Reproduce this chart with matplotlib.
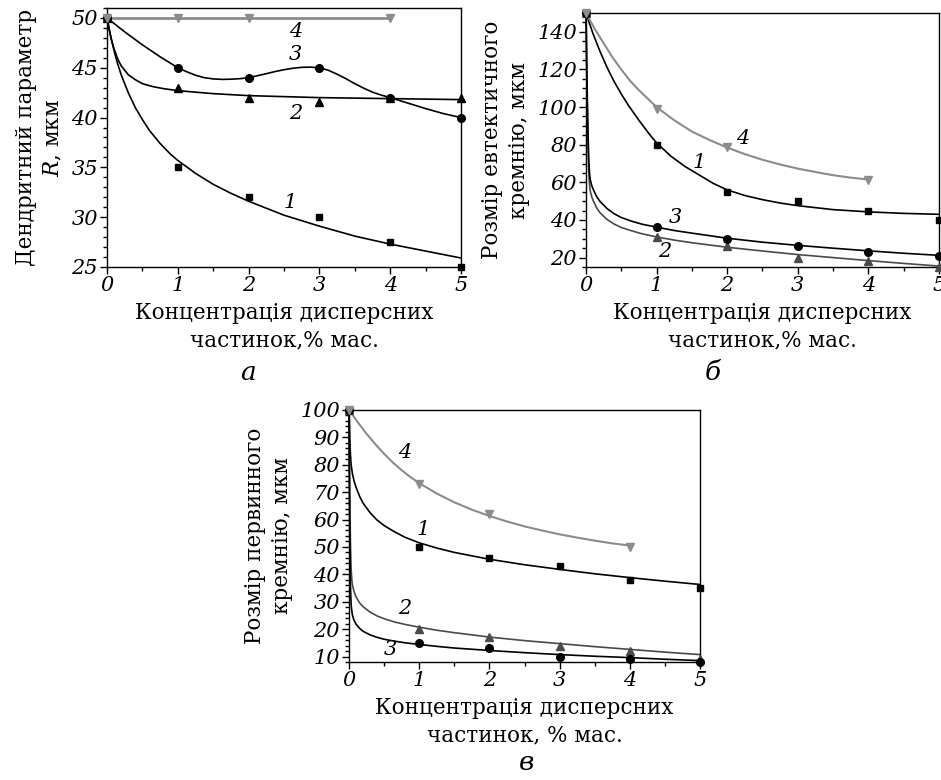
import matplotlib
matplotlib.use('Agg')
import matplotlib.pyplot as plt
from matplotlib.ticker import MultipleLocator

plt.rcParams['font.family'] = ['DejaVu Serif']
plt.rcParams['mathtext.fontset'] = 'dejavuserif'

GRAY = '#8c8c8c'
DARK = '#4a4a4a'

# ---- panel a: dendrite parameter R ----
a_pts_x = [0, 1, 2, 3, 4, 5]
a1_pts = [50, 35, 32, 30, 27.5, 25]
a2_pts = [50, 43, 42, 41.6, 42, 42]
a3_pts = [50, 45, 44, 45, 42, 40]
a4_pts_x = [0, 1, 2, 4]
a4_pts = [50, 50, 50, 50]

a1_fit_x = [0, 0.05, 0.1, 0.15, 0.2, 0.3, 0.4, 0.5, 0.6, 0.75, 0.9, 1, 1.25, 1.5,
            1.75, 2, 2.5, 3, 3.5, 4, 4.5, 5]
a1_fit = [50, 48.2, 46.7, 45.4, 44.3, 42.5, 41.0, 39.8, 38.7, 37.4, 36.3, 35.7, 34.4,
          33.3, 32.4, 31.6, 30.2, 29.1, 28.1, 27.3, 26.6, 25.9]
a2_fit_x = [0, 0.03, 0.06, 0.1, 0.15, 0.2, 0.3, 0.4, 0.5, 0.65, 0.8, 1, 1.5, 2, 3, 4, 5]
a2_fit = [50, 48.9, 47.9, 46.9, 45.9, 45.2, 44.3, 43.8, 43.4, 43.1, 42.9, 42.7, 42.4,
          42.2, 42.0, 41.9, 41.8]
a3_fit_x = [0, 0.25, 0.5, 0.75, 1, 1.125, 1.25, 1.375, 1.5, 1.625, 1.75, 1.875, 2,
            2.125, 2.25, 2.375, 2.5, 2.625, 2.75, 2.875, 3, 3.125, 3.25, 3.375, 3.5,
            3.625, 3.75, 3.875, 4, 4.25, 4.5, 4.75, 5]
a3_fit = [50, 48.6, 47.3, 46.1, 45.0, 44.6, 44.25, 44.0, 43.88, 43.83, 43.85, 43.9,
          44.0, 44.2, 44.4, 44.62, 44.8, 44.95, 45.04, 45.06, 45.0, 44.75, 44.35, 43.9,
          43.4, 42.95, 42.55, 42.25, 42.0, 41.45, 40.9, 40.4, 40.0]
a4_fit_x = [0, 4]
a4_fit = [50, 50]

# ---- panel b: eutectic silicon size ----
b_pts_x = [0, 1, 2, 3, 4, 5]
b1_pts = [150, 80, 55, 50, 45, 40]
b2_pts = [150, 31, 26, 20, 18, 15]
b3_pts = [150, 36, 30, 26, 23, 21]
b4_pts_x = [0, 1, 2, 4]
b4_pts = [150, 99, 79, 61]

b1_fit_x = [0, 0.1, 0.2, 0.3, 0.4, 0.5, 0.6, 0.75, 0.9, 1, 1.2, 1.4, 1.6, 1.8, 2,
            2.25, 2.5, 2.75, 3, 3.5, 4, 4.5, 5]
b1_fit = [150, 139, 129.5, 121, 113.5, 107, 101, 93, 85.5, 81, 74, 68.5, 64, 59.5,
          56, 53, 50.8, 49, 47.6, 45.5, 44.3, 43.5, 43]
b23_fit_x = [0, 0.005, 0.01, 0.02, 0.03, 0.04, 0.05, 0.06, 0.08, 0.1, 0.15, 0.2,
             0.3, 0.4, 0.5, 0.65, 0.8, 1, 1.25, 1.5, 2, 2.5, 3, 3.5, 4, 4.5, 5]
b2_fit = [150, 136, 120, 97, 78, 65, 59, 55.5, 52.5, 50.5, 46.5, 43.8, 40.2, 37.8,
          36, 34.2, 32.6, 31, 29.3, 27.9, 25.5, 23.5, 21.6, 20, 18.4, 16.9, 15.5]
b3_fit = [150, 138, 125, 103, 85, 72, 65, 61.5, 58.5, 56.5, 52.5, 49.8, 46, 43.3,
          41.3, 39.3, 37.7, 36.2, 34.4, 33, 30.3, 28.2, 26.5, 25, 23.6, 22.3, 21.2]
b4_fit_x = [0, 0.125, 0.25, 0.375, 0.5, 0.625, 0.75, 0.875, 1, 1.25, 1.5, 1.75, 2,
            2.25, 2.5, 2.75, 3, 3.25, 3.5, 3.75, 4]
b4_fit = [150, 141.5, 134, 126.5, 120, 114, 109, 104.5, 100, 93, 87, 82.5, 78.5, 75,
          72, 69.5, 67.3, 65.5, 63.8, 62.5, 61.5]

# ---- panel c: primary silicon size ----
c_pts_x = [0, 1, 2, 3, 4, 5]
c1_pts = [100, 50, 46, 43, 38, 35]
c2_pts = [100, 20, 17, 14, 12, 9]
c3_pts = [100, 15, 13, 10, 9, 8]
c4_pts_x = [0, 1, 2, 4]
c4_pts = [100, 73, 62, 50]

c1_fit_x = [0, 0.005, 0.01, 0.02, 0.03, 0.05, 0.075, 0.1, 0.15, 0.2, 0.3, 0.4, 0.5,
            0.65, 0.8, 1, 1.25, 1.5, 2, 2.5, 3, 3.5, 4, 4.5, 5]
c1_fit = [100, 95, 90, 84, 80, 76.5, 73.8, 71.8, 68.5, 66, 62.5, 59.8, 57.8, 55.5,
          53.5, 51.5, 49.6, 48.0, 45.5, 43.5, 41.8, 40.2, 38.8, 37.5, 36.3]
c23_fit_x = [0, 0.005, 0.01, 0.02, 0.03, 0.04, 0.05, 0.07, 0.1, 0.15, 0.2, 0.3, 0.4,
             0.5, 0.65, 0.8, 1, 1.25, 1.5, 2, 2.5, 3, 3.5, 4, 4.5, 5]
c2_fit = [100, 85, 72, 52, 42, 38, 36, 33.8, 31.8, 29.6, 28.2, 26.2, 24.8, 23.8,
          22.6, 21.7, 20.7, 19.6, 18.7, 17.1, 15.8, 14.7, 13.6, 12.6, 11.6, 10.7]
c3_fit = [100, 72, 55, 36, 29, 26.5, 25, 23.3, 21.8, 20.3, 19.2, 17.9, 17.0, 16.3,
          15.6, 15.0, 14.4, 13.7, 13.1, 12.2, 11.4, 10.7, 10.1, 9.6, 9.0, 8.5]
c4_fit_x = [0, 0.125, 0.25, 0.375, 0.5, 0.625, 0.75, 0.875, 1, 1.25, 1.5, 1.75, 2,
            2.25, 2.5, 2.75, 3, 3.25, 3.5, 3.75, 4]
c4_fit = [100, 95.5, 91.3, 87.5, 84, 80.8, 78, 75.5, 73.3, 69.5, 66.3, 63.6, 61.3,
          59.3, 57.5, 56, 54.6, 53.4, 52.3, 51.3, 50.5]

xlabel_a = 'Концентрація дисперсних\nчастинок,% мас.'
xlabel_c = 'Концентрація дисперсних\nчастинок, % мас.'

fig = plt.figure(figsize=(9.41, 7.80), dpi=100)
ax_a = fig.add_axes([0.1137, 0.6577, 0.3762, 0.3321])
ax_b = fig.add_axes([0.6227, 0.6577, 0.3751, 0.3256])
ax_c = fig.add_axes([0.3709, 0.1513, 0.3730, 0.3231])


def style_axis(ax, ylim, ymajor, yminor, xlabel, ylabel):
    ax.set_xlim(0, 5)
    ax.set_ylim(*ylim)
    ax.xaxis.set_major_locator(MultipleLocator(1))
    ax.xaxis.set_minor_locator(MultipleLocator(0.5))
    ax.yaxis.set_major_locator(MultipleLocator(ymajor))
    ax.yaxis.set_minor_locator(MultipleLocator(yminor))
    ax.tick_params(which='major', direction='out', length=5, width=1,
                   labelsize=15, pad=1.5)
    ax.tick_params(which='minor', direction='out', length=3, width=1)
    for lab in ax.get_xticklabels() + ax.get_yticklabels():
        lab.set_fontstyle('italic')
    for s in ax.spines.values():
        s.set_linewidth(1.0)
    ax.set_xlabel(xlabel, fontsize=15.5, linespacing=1.3, labelpad=5)
    ax.set_ylabel(ylabel, fontsize=15.5, linespacing=1.3, labelpad=5)


def draw_series(ax, fx, fy, px, py, marker, color, ms=5, lw=1.2):
    ax.plot(fx, fy, color=color, lw=lw, clip_on=False, zorder=2)
    ax.plot(px, py, ls='none', marker=marker, color=color, ms=ms,
            clip_on=False, zorder=3)


# panel a
draw_series(ax_a, a1_fit_x, a1_fit, a_pts_x, a1_pts, 's', 'black', ms=4.5)
draw_series(ax_a, a2_fit_x, a2_fit, a_pts_x, a2_pts, '^', 'black', ms=6)
draw_series(ax_a, a3_fit_x, a3_fit, a_pts_x, a3_pts, 'o', 'black', ms=5.5)
draw_series(ax_a, a4_fit_x, a4_fit, a4_pts_x, a4_pts, 'v', GRAY, ms=6, lw=2)
style_axis(ax_a, (25, 51), 5, 1, xlabel_a, 'Дендритний параметр\n$R$, мкм')
for txt, x, y in [('4', 2.66, 48.6), ('3', 2.66, 46.3), ('2', 2.66, 40.4),
                  ('1', 2.59, 31.5)]:
    ax_a.text(x, y, txt, fontsize=15, style='italic', ha='center', va='center')

# panel b
draw_series(ax_b, b1_fit_x, b1_fit, b_pts_x, b1_pts, 's', 'black', ms=5)
draw_series(ax_b, b23_fit_x, b2_fit, b_pts_x, b2_pts, '^', DARK, ms=6)
draw_series(ax_b, b23_fit_x, b3_fit, b_pts_x, b3_pts, 'o', 'black', ms=5.5)
draw_series(ax_b, b4_fit_x, b4_fit, b4_pts_x, b4_pts, 'v', GRAY, ms=6, lw=1.5)
style_axis(ax_b, (15, 150), 20, 5, xlabel_a, 'Розмір евтектичного\nкремнію, мкм')
for txt, x, y in [('4', 2.22, 83.4), ('1', 1.61, 70.7), ('3', 1.26, 41.1),
                  ('2', 1.11, 23.5)]:
    ax_b.text(x, y, txt, fontsize=15, style='italic', ha='center', va='center')

# panel c
draw_series(ax_c, c1_fit_x, c1_fit, c_pts_x, c1_pts, 's', 'black', ms=5)
draw_series(ax_c, c23_fit_x, c2_fit, c_pts_x, c2_pts, '^', DARK, ms=6)
draw_series(ax_c, c23_fit_x, c3_fit, c_pts_x, c3_pts, 'o', 'black', ms=5.5)
draw_series(ax_c, c4_fit_x, c4_fit, c4_pts_x, c4_pts, 'v', GRAY, ms=6, lw=1.5)
style_axis(ax_c, (8, 100), 10, 2, xlabel_c, 'Розмір первинного\nкремнію, мкм')
for txt, x, y in [('4', 0.79, 84.4), ('1', 1.05, 56.4), ('2', 0.8, 27.6),
                  ('3', 0.59, 12.4)]:
    ax_c.text(x, y, txt, fontsize=15, style='italic', ha='center', va='center')

# panel letters
fig.text(248 / 941, 1 - 372 / 780, 'а', fontsize=19, style='italic',
         ha='center', va='center')
fig.text(713 / 941, 1 - 372 / 780, 'б', fontsize=19, style='italic',
         ha='center', va='center')
fig.text(527 / 941, 1 - 763 / 780, 'в', fontsize=19, style='italic',
         ha='center', va='center')

fig.savefig('out.png', dpi=100)
